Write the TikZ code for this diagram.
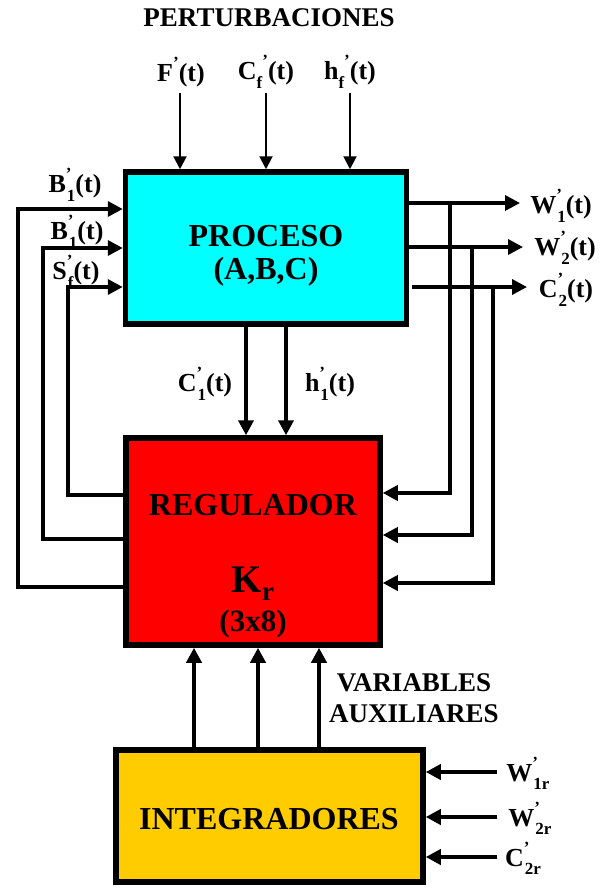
\documentclass[tikz,border=0pt]{standalone}
\usepackage{fontspec}
\setmainfont{Liberation Serif}
\usetikzlibrary{arrows.meta}
\definecolor{procC}{HTML}{00FFFF}
\definecolor{regC}{HTML}{FF0000}
\definecolor{intC}{HTML}{FFCC00}
\newcommand{\fs}[1]{\fontsize{#1}{#1}\selectfont}
\newcommand{\ps}[1]{\rlap{\raisebox{0.5em}{\fs{17}'}}\kern1pt\raisebox{-0.32em}{\fs{17}#1}}
\newcommand{\pp}{\raisebox{0.5em}{\fs{17}'}}
\newcommand{\sbx}[1]{\raisebox{-0.32em}{\fs{17}#1}}
\begin{document}
\begin{tikzpicture}[x=1pt,y=-1pt,font=\bfseries,
  box/.style={draw=black,line width=5.5pt,inner sep=0pt},
  lab/.style={inner sep=0pt,font=\bfseries\fs{26}},
  big/.style={inner sep=0pt,font=\bfseries\fs{32}},
  med/.style={inner sep=0pt,font=\bfseries\fs{27}},
  tarr/.style={line width=2pt,-{Triangle[length=13pt,width=13pt]}},
  farr/.style={line width=3.5pt,-{Triangle[length=15pt,width=15pt]}},
  marr/.style={line width=4pt,-{Triangle[length=15pt,width=15pt]}}]
\useasboundingbox (0,0) rectangle (609,888);

% boxes
\node[box,fill=procC,minimum width=281pt,minimum height=152pt] (proc) at (266,248) {};
\node[box,fill=regC,minimum width=254pt,minimum height=207pt] (reg) at (253,541.5) {};
\node[box,fill=intC,minimum width=307pt,minimum height=132pt] (integ) at (269.5,816) {};

% box texts
\node[big] (tproc1) at (266,236) {PROCESO};
\node[big] (tproc2) at (266,272) {(A,B,C)};
\node[big] (treg1) at (253,505) {REGULADOR};
\node[inner sep=0pt,font=\bfseries\fs{39}] (treg2) at (253,584) {K\raisebox{-0.2em}{\fs{27}r}};
\node[inner sep=0pt,font=\bfseries\fs{31}] (treg3) at (253,624) {(3x8)};
\node[big] (tint) at (269,819) {INTEGRADORES};

% top disturbances
\node[med] (tpert) at (269,18) {PERTURBACIONES};
\node[lab] (lF) at (181,72) {F\pp(t)};
\node[lab] (lCf) at (266,72) {C\sbx{f}\pp(t)};
\node[lab] (lhf) at (350,72) {h\sbx{f}\pp(t)};
\coordinate (sF) at (180,93);
\coordinate (sCf) at (266,93);
\coordinate (shf) at (350,93);
\draw[tarr] (sF) -- (sF |- proc.north);
\draw[tarr] (sCf) -- (sCf |- proc.north);
\draw[tarr] (shf) -- (shf |- proc.north);

% left feedback
\node[lab] (lB1) at (75,185) {B\ps{1}(t)};
\node[lab] (lB2) at (77,232) {B\ps{1}(t)};
\node[lab] (lSf) at (76,272) {S\ps{f}(t)};
\coordinate (r1) at (18,587);
\coordinate (r2) at (43,539);
\coordinate (r3) at (68,495);
\coordinate (p1) at (18,209);
\coordinate (p2) at (43,248);
\coordinate (p3) at (68,287);
\draw[farr,line join=miter] (r1 -| reg.west) -- (r1) -- (p1) -- (p1 -| proc.west);
\draw[farr,line join=miter] (r2 -| reg.west) -- (r2) -- (p2) -- (p2 -| proc.west);
\draw[farr,line join=miter] (r3 -| reg.west) -- (r3) -- (p3) -- (p3 -| proc.west);

% right outputs
\coordinate (o1) at (520,203);
\coordinate (o2) at (523,247);
\coordinate (o3) at (527,287);
\coordinate (c3s) at (412,287);
\draw[farr] (o1 -| proc.east) -- (o1);
\draw[farr] (o2 -| proc.east) -- (o2);
\draw[farr] (c3s) -- (o3);
\node[lab] (lW1) at (561,206) {W\ps{1}(t)};
\node[lab] (lW2) at (565,248) {W\ps{2}(t)};
\node[lab] (lC2) at (566,290) {C\ps{2}(t)};
\coordinate (v1) at (450,203);
\coordinate (v2) at (472,247);
\coordinate (v3) at (493,287);
\coordinate (q1) at (450,493);
\coordinate (q2) at (472,535);
\coordinate (q3) at (493,583);
\draw[farr,line join=miter] (v1) -- (q1) -- (q1 -| reg.east);
\draw[farr,line join=miter] (v2) -- (q2) -- (q2 -| reg.east);
\draw[farr,line join=miter] (v3) -- (q3) -- (q3 -| reg.east);

% middle
\coordinate (m1) at (246,330);
\coordinate (m2) at (286,330);
\draw[marr] (m1 |- proc.south) -- (m1 |- reg.north);
\draw[marr] (m2 |- proc.south) -- (m2 |- reg.north);
\node[lab] (lC1) at (205,384) {C\ps{1}(t)};
\node[lab] (lh1) at (330,384) {h\ps{1}(t)};

% bottom auxiliary
\coordinate (b1) at (194,700);
\coordinate (b2) at (258,700);
\coordinate (b3) at (319,700);
\draw[marr] (b1 |- integ.north) -- (b1 |- reg.south);
\draw[marr] (b2 |- integ.north) -- (b2 |- reg.south);
\draw[marr] (b3 |- integ.north) -- (b3 |- reg.south);
\node[med] (lvar1) at (414,683) {VARIABLES};
\node[med] (lvar2) at (414,714) {AUXILIARES};

% integrator inputs
\coordinate (i1) at (497,772);
\coordinate (i2) at (497,817);
\coordinate (i3) at (497,857);
\draw[marr] (i1) -- (i1 -| integ.east);
\draw[marr] (i2) -- (i2 -| integ.east);
\draw[marr] (i3) -- (i3 -| integ.east);
\node[lab] (lW1r) at (528,773) {W\ps{1r}};
\node[lab] (lW2r) at (530,818) {W\ps{2r}};
\node[lab] (lC2r) at (523,858) {C\ps{2r}};
\end{tikzpicture}
\end{document}
